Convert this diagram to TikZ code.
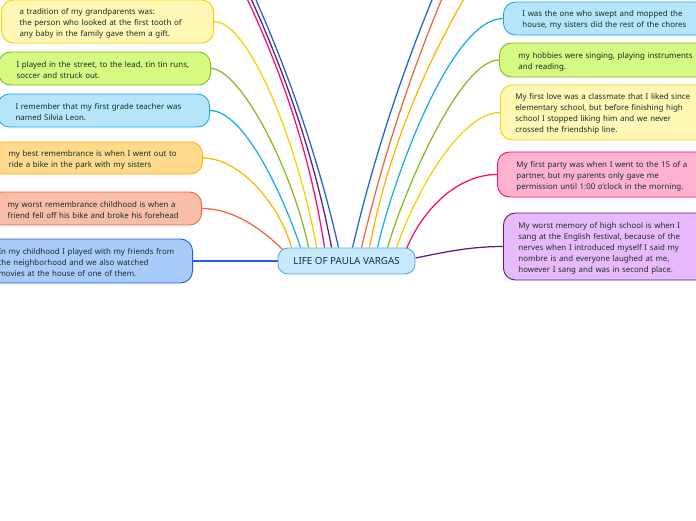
\documentclass[tikz,border=0pt]{standalone}
\usepackage{fontspec}
\setmainfont{Noto Sans}
\usetikzlibrary{backgrounds}
\newcommand\oneline[1]{\mbox{#1}}
\definecolor{txt}{HTML}{15302A}
\definecolor{ctxt}{HTML}{1A2A55}
\definecolor{yelL}{HTML}{F2D300}
\definecolor{yelF}{HTML}{FFF7B3}
\definecolor{greL}{HTML}{86B925}
\definecolor{greF}{HTML}{D6F981}
\definecolor{bluL}{HTML}{1AABEF}
\definecolor{bluF}{HTML}{B5E5FB}
\definecolor{oraL}{HTML}{FFB400}
\definecolor{oraF}{HTML}{FFDA8C}
\definecolor{redL}{HTML}{F2643A}
\definecolor{redF}{HTML}{F8BDA7}
\definecolor{dblL}{HTML}{1E62D6}
\definecolor{dblF}{HTML}{A9CBFA}
\definecolor{pinL}{HTML}{FF0A6C}
\definecolor{pinF}{HTML}{FFB1D0}
\definecolor{purL}{HTML}{5E1B7E}
\definecolor{purF}{HTML}{E9BAFB}
\definecolor{cenF}{HTML}{C6E9FB}
\definecolor{cenD}{HTML}{5AA7DD}
\tikzset{
  box/.style={draw, line width=0.9pt, rounded corners=12pt, align=left, text=txt,
    font=\fontsize{7.9}{11}\selectfont, inner ysep=0pt,
    execute at begin node={\rule{0pt}{9.5pt}}},
  lbox/.style={box, text width=176pt, inner xsep=18pt, anchor=east},
  rbox/.style={box, text width=205pt, anchor=west},
  centre/.style={draw=cenD, fill=cenF, line width=0.9pt, rounded corners=10pt,
    minimum width=137pt, minimum height=26pt, inner sep=0pt, text=ctxt,
    font=\fontsize{9.8}{12}\selectfont},
  link/.style={line width=1.25pt}
}
\begin{document}
\begin{tikzpicture}[x=1pt,y=-1pt]
\useasboundingbox (0,0) rectangle (696,520);
\clip (0,0) rectangle (696,520);
% central node
\node[centre] (c) at (346.5,261) {LIFE OF PAULA VARGAS};
% left branches
\node[lbox, draw=yelL, fill=yelF, minimum height=43pt] (l1) at (214,21.5)
  {\oneline{a tradition of my grandparents was:}\\\oneline{the person who looked at the first tooth of}\\\oneline{any baby in the family gave them a gift.}};
\node[lbox, draw=greL, fill=greF, minimum height=33pt] (l2) at (211,68.5)
  {\oneline{I played in the street, to the lead, tin tin runs,}\\\oneline{soccer and struck out.}};
\node[lbox, draw=bluL, fill=bluF, minimum height=33pt] (l3) at (210,110.5)
  {\oneline{I remember that my first grade teacher was}\\\oneline{named Silvia Leon.}};
\node[lbox, draw=oraL, fill=oraF, minimum height=32pt] (l4) at (203,158)
  {\oneline{my best remembrance is when I went out to}\\\oneline{ride a bike in the park with my sisters}};
\node[lbox, draw=redL, fill=redF, minimum height=33pt] (l5) at (202,208.5)
  {\oneline{my worst remembrance childhood is when a}\\\oneline{friend fell off his bike and broke his forehead}};
\node[lbox, draw=dblL, fill=dblF, minimum height=44pt] (l6) at (193,261)
  {\oneline{In my childhood I played with my friends from}\\\oneline{the neighborhood and we also watched}\\\oneline{movies at the house of one of them.}};
% right branches
\node[rbox, draw=bluL, fill=bluF, inner xsep=19pt, minimum height=33pt] (r1) at (503,18.5)
  {\oneline{I was the one who swept and mopped the}\\\oneline{house, my sisters did the rest of the chores}};
\node[rbox, draw=greL, fill=greF, inner xsep=19pt, minimum height=34pt] (r2) at (499,60)
  {\oneline{my hobbies were singing, playing instruments}\\\oneline{and reading.}};
\node[rbox, draw=yelL, fill=yelF, inner xsep=15pt, minimum height=55pt] (r3) at (500,112.5)
  {\oneline{My first love was a classmate that I liked since}\\\oneline{elementary school, but before finishing high}\\\oneline{school I stopped liking him and we never}\\\oneline{crossed the friendship line.}};
\node[rbox, draw=pinL, fill=pinF, inner xsep=19pt, minimum height=45pt] (r4) at (497,174.5)
  {\oneline{My first party was when I went to the 15 of a}\\\oneline{partner, but my parents only gave me}\\\oneline{permission until 1:00 o'clock in the morning.}};
\node[rbox, draw=purL, fill=purF, inner xsep=15pt, minimum height=67pt] (r5) at (503,246.5)
  {\oneline{My worst memory of high school is when I}\\\oneline{sang at the English festival, because of the}\\\oneline{nerves when I introduced myself I said my}\\\oneline{nombre is and everyone laughed at me,}\\\oneline{however I sang and was in second place.}};
% free ends of branches leaving the picture
\coordinate (t1) at (206,-80);
\coordinate (t2) at (212,-80);
\coordinate (t3) at (218,-80);
\coordinate (t4) at (467,-80);
\coordinate (t5) at (477,-80);
\coordinate (t6) at (514,-80);
\begin{scope}[on background layer]
\draw[link, yelL] (l1.east) .. controls +(36,0) and +(-17,-98) .. ([xshift=39pt]c.north west);
\draw[link, greL] (l2.east) .. controls +(29,0) and +(-16,-78) .. ([xshift=31pt]c.north west);
\draw[link, bluL] (l3.east) .. controls +(35,0) and +(-16,-48) .. ([xshift=23pt]c.north west);
\draw[link, oraL] (l4.east) .. controls +(37,0) and +(-12,-43) .. ([xshift=14pt]c.north west);
\draw[link, redL] (l5.east) .. controls +(33,0) and +(-18,-18) .. ([xshift=5pt,yshift=-2pt]c.north west);
\draw[link, dblL] (l6.east) -- (c.west);
\draw[link, pinL] ([xshift=47pt]c.north west) .. controls (308,139) and (269,30) .. (t1);
\draw[link, purL] ([xshift=54pt]c.north west) .. controls (311,139) and (271,30) .. (t2);
\draw[link, dblL] ([xshift=61pt]c.north west) .. controls (314,139) and (274,30) .. (t3);
\draw[link, dblL] ([xshift=75pt]c.north west) .. controls (378,139) and (416,29) .. (t4);
\draw[link, redL] ([xshift=84pt]c.north west) .. controls (387,139) and (425,29) .. (t5);
\draw[link, oraL] ([xshift=92pt]c.north west) .. controls (390,139) and (438,29) .. (t6);
\draw[link, bluL] ([xshift=100pt]c.north west) .. controls +(14,-63) and +(-53,0) .. (r1.west);
\draw[link, greL] ([xshift=110pt]c.north west) .. controls +(17,-58) and +(-39,0) .. (r2.west);
\draw[link, yelL] ([xshift=119pt]c.north west) .. controls +(18,-53) and +(-40,0) .. (r3.west);
\draw[link, pinL] ([xshift=129pt,yshift=-1pt]c.north west) .. controls +(18,-43) and +(-37,0) .. (r4.west);
\draw[link, purL] ([yshift=3pt]c.east) .. controls +(30,-6) and +(-33,0) .. (r5.west);
\end{scope}
\end{tikzpicture}
\end{document}
